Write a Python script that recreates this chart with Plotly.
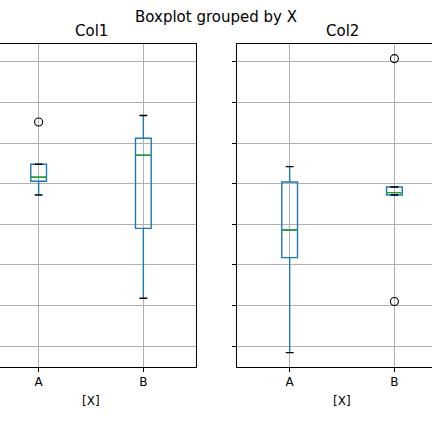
import plotly.graph_objects as go

categories = ["A", "B"]
positions = [1, 2]

# Col1 box statistics
col1_q1 = [0.53, -0.05]
col1_median = [0.58, 0.85]
col1_q3 = [0.74, 1.06]
col1_low = [0.36, -0.91]
col1_high = [0.74, 1.34]
col1_out_x = ["A"]
col1_out_y = [1.26]

# Col2 box statistics
col2_q1 = [-0.41, 0.36]
col2_median = [-0.07, 0.39]
col2_q3 = [0.52, 0.46]
col2_low = [-1.58, 0.36]
col2_high = [0.71, 0.46]
col2_out_x = ["B", "B"]
col2_out_y = [2.04, -0.95]

y_ticks = [-1.5, -1.0, -0.5, 0.0, 0.5, 1.0, 1.5, 2.0]

W, H = 432, 432
mt, mb = 44, 65
ph = H - mt - mb

BLUE = "#1f77b4"
GREEN = "#2ca02c"
GRID = "#b0b0b0"
FONT = "DejaVu Sans"
BW = 0.15

fig = go.Figure()

def add_panel(q1, med, q3, lo, hi, ox, oy, xa, ya):
    fig.add_trace(go.Box(
        x=positions, q1=q1, median=med, q3=q3, lowerfence=lo, upperfence=hi,
        width=BW, whiskerwidth=0, boxpoints=False,
        line=dict(color=BLUE, width=1.4), fillcolor="rgba(0,0,0,0)",
        xaxis=xa, yaxis=ya, showlegend=False, hoverinfo="skip"))
    mx, my, cx, cy = [], [], [], []
    for p, m, l, h in zip(positions, med, lo, hi):
        mx += [p - BW / 2, p + BW / 2, None]
        my += [m, m, None]
        cx += [p - BW / 4, p + BW / 4, None, p - BW / 4, p + BW / 4, None]
        cy += [l, l, None, h, h, None]
    fig.add_trace(go.Scatter(x=mx, y=my, mode="lines", line=dict(color=GREEN, width=1.4),
                             xaxis=xa, yaxis=ya, showlegend=False, hoverinfo="skip"))
    fig.add_trace(go.Scatter(x=cx, y=cy, mode="lines", line=dict(color="black", width=1.4),
                             xaxis=xa, yaxis=ya, showlegend=False, hoverinfo="skip"))
    px = [positions[categories.index(c)] for c in ox]
    fig.add_trace(go.Scatter(x=px, y=oy, mode="markers",
                             marker=dict(symbol="circle-open", size=8, color="black",
                                         line=dict(width=1.1, color="black")),
                             xaxis=xa, yaxis=ya, showlegend=False, hoverinfo="skip"))

add_panel(col1_q1, col1_median, col1_q3, col1_low, col1_high, col1_out_x, col1_out_y, "x", "y")
add_panel(col2_q1, col2_median, col2_q3, col2_low, col2_high, col2_out_x, col2_out_y, "x2", "y2")

yr = [-1.757, 2.220]
xcommon = dict(tickvals=positions, ticktext=categories, showgrid=True, gridcolor=GRID, gridwidth=0.9,
               zeroline=False, showline=True, linecolor="black", linewidth=1.1, mirror=True,
               ticks="outside", ticklen=4, tickwidth=1, tickcolor="black",
               tickfont=dict(family=FONT, size=12, color="black"))
ycommon = dict(range=yr, tickvals=y_ticks, showgrid=True, gridcolor=GRID, gridwidth=0.9,
               zeroline=False, showline=True, linecolor="black", linewidth=1.1,
               showticklabels=False)

fig.update_layout(
    width=W, height=H,
    margin=dict(l=0, r=0, t=mt, b=mb),
    paper_bgcolor="white", plot_bgcolor="white",
    font=dict(family=FONT, color="black"),
    xaxis=dict(domain=[0, 195.7 / W], range=[0.631, 2.5], anchor="y", **xcommon),
    yaxis=dict(domain=[0, 1], anchor="x", side="right", ticks="", **ycommon),
    xaxis2=dict(domain=[237.3 / W, 1], range=[0.5, 2.359], anchor="y2", **xcommon),
    yaxis2=dict(domain=[0, 1], anchor="x2", side="left", ticks="outside", ticklen=4,
                tickwidth=1, tickcolor="black", **ycommon),
)

def py(pix):
    return 1 - (pix - mt) / ph

ann = [
    dict(text="Boxplot grouped by X", x=215.5 / W, y=py(17), size=15),
    dict(text="Col1", x=91 / W, y=py(31), size=15),
    dict(text="Col2", x=342 / W, y=py(31), size=15),
    dict(text="[X]", x=91 / W, y=py(400.5), size=12),
    dict(text="[X]", x=342 / W, y=py(400.5), size=12),
]
for a in ann:
    fig.add_annotation(text=a["text"], x=a["x"], y=a["y"], xref="paper", yref="paper",
                       xanchor="center", yanchor="middle", showarrow=False,
                       font=dict(family=FONT, size=a["size"], color="black"))

fig.write_html("out.html", config={"displayModeBar": False},
               post_script="document.body.style.margin='0';document.body.style.overflow='hidden';")
